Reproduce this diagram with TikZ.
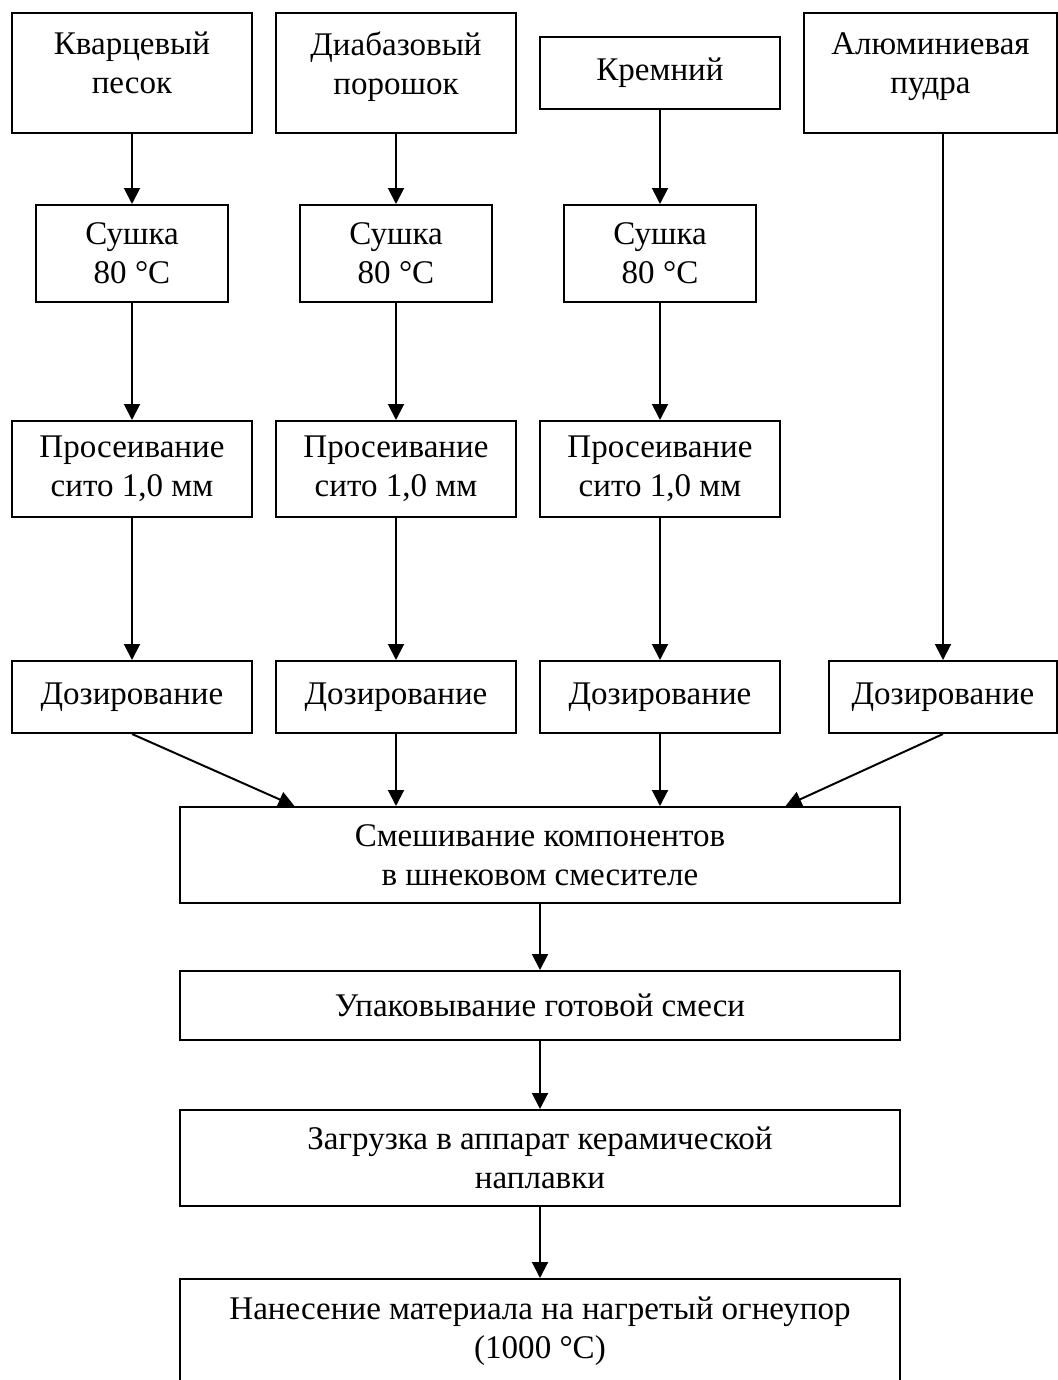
\documentclass[tikz,border=0pt]{standalone}
\usepackage{fontspec}
\setmainfont{Liberation Serif}
\usetikzlibrary{arrows.meta,calc}

\begin{document}
\begin{tikzpicture}[x=0.025cm, y=-0.025cm, line width=1.4pt,
    >={Triangle[length=0.4cm, width=0.4cm]},
    caja/.style={draw, rectangle, align=center, inner sep=0pt,
      font=\fontsize{23.5}{27.5}\selectfont}]
    \useasboundingbox (0,0) rectangle (1058,1380);

    % --- 1. Исходные компоненты ---
    \node[caja, minimum width=6cm, minimum height=3cm, text depth=0.5cm] (kvarc) at (132,73) {Кварцевый\\песок};
    \node[caja, minimum width=6cm, minimum height=3cm, text depth=0.5cm] (diabaz) at (396,73) {Диабазовый\\порошок};
    \node[caja, minimum width=6cm, minimum height=1.8cm] (kremn) at (660,73) {Кремний};
    \node[caja, minimum width=6.325cm, minimum height=3cm, text depth=0.5cm] (alum) at (930.5,73) {Алюминиевая\\пудра};

    % --- 2. Сушка ---
    \node[caja, minimum width=4.8cm, minimum height=2.425cm] (sushA) at (132,253.5) {Сушка\\80 °C};
    \node[caja, minimum width=4.8cm, minimum height=2.425cm] (sushB) at (396,253.5) {Сушка\\80 °C};
    \node[caja, minimum width=4.8cm, minimum height=2.425cm] (sushC) at (660,253.5) {Сушка\\80 °C};

    % --- 3. Просеивание ---
    \node[caja, minimum width=6cm, minimum height=2.4cm] (sievA) at (132,469) {Просеивание\\сито 1,0 мм};
    \node[caja, minimum width=6cm, minimum height=2.4cm] (sievB) at (396,469) {Просеивание\\сито 1,0 мм};
    \node[caja, minimum width=6cm, minimum height=2.4cm] (sievC) at (660,469) {Просеивание\\сито 1,0 мм};

    % --- 4. Дозирование ---
    \node[caja, minimum width=6cm, minimum height=1.8cm] (dozA) at (132,697) {Дозирование};
    \node[caja, minimum width=6cm, minimum height=1.8cm] (dozB) at (396,697) {Дозирование};
    \node[caja, minimum width=6cm, minimum height=1.8cm] (dozC) at (660,697) {Дозирование};
    \node[caja, minimum width=5.7cm, minimum height=1.8cm] (dozD) at (943,697) {Дозирование};

    % --- 5. Смешивание и дальше ---
    \node[caja, minimum width=18cm, minimum height=2.4cm] (mix) at (540,855) {Смешивание компонентов\\в шнековом смесителе};
    \node[caja, minimum width=18cm, minimum height=1.725cm] (pack) at (540,1005.5) {Упаковывание готовой смеси};
    \node[caja, minimum width=18cm, minimum height=2.4cm] (load) at (540,1158) {Загрузка в аппарат керамической\\наплавки};
    \node[caja, minimum width=18cm, minimum height=2.6cm] (appl) at (540,1331) {Нанесение материала на нагретый огнеупор\\(1000 °C)};

    % Стрелки по колонкам
    \foreach \a/\b in {kvarc/sushA, diabaz/sushB, kremn/sushC,
                       sushA/sievA, sushB/sievB, sushC/sievC,
                       sievA/dozA, sievB/dozB, sievC/dozC}
      \draw[->] (\a) -- (\b);
    \draw[->] (dozD.north |- alum.south) -- (dozD.north);

    % Сход к смесителю
    \coordinate (mixL) at ($(mix.north west)!0.16!(mix.north east)$);
    \coordinate (mixR) at ($(mix.north west)!0.84!(mix.north east)$);
    \draw[->] (dozA.south) -- (mixL);
    \draw[->] (dozB.south) -- (dozB.south |- mix.north);
    \draw[->] (dozC.south) -- (dozC.south |- mix.north);
    \draw[->] (dozD.south) -- (mixR);

    \draw[->] (mix) -- (pack);
    \draw[->] (pack) -- (load);
    \draw[->] (load) -- (appl);
\end{tikzpicture}
\end{document}
